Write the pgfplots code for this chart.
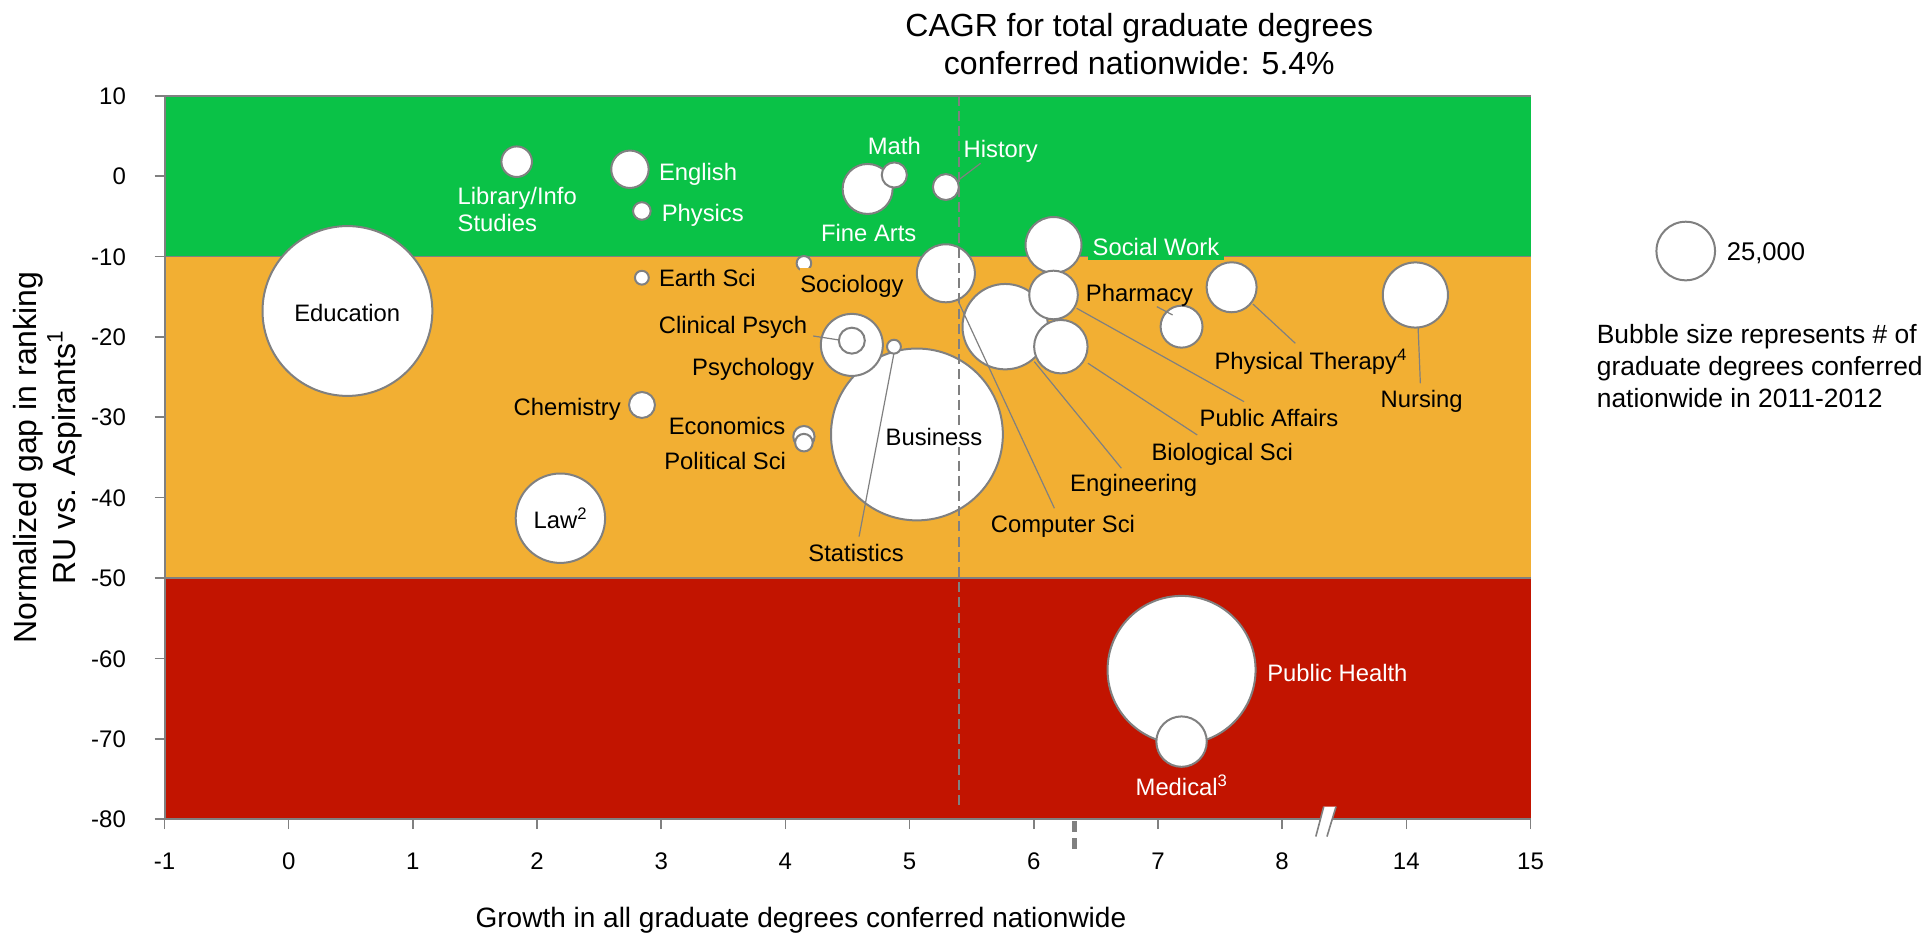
\documentclass[border=0pt]{standalone}
\usepackage{fontspec}
\setmainfont{Liberation Sans}
\usepackage{pgfplots}
\pgfplotsset{compat=1.18}
\usepackage{pgfplotstable}

\definecolor{cgreen}{RGB}{10,194,71}
\definecolor{corange}{RGB}{242,175,51}
\definecolor{cred}{RGB}{194,20,0}
\definecolor{axgray}{RGB}{128,128,128}

\newcommand\lblfont{\fontsize{11.9}{14}\selectfont}
\newcommand\tickfont{\fontsize{12}{14}\selectfont}

% name  x(position)  y  n(thousands of degrees)
\pgfplotstableread{
name x y n
Education 0.473 -16.78 210
Business 5.059 -32.14 215
PublicHealth 7.19 -61.43 159.5
Law 2.188 -42.56 58.2
Engineering 5.77 -18.73 53.1
Nursing 9.073 -14.79 30.9
Psychology 4.535 -21.0 28.0
ComputerSci 5.292 -12.09 24.5
SocialWork 6.159 -8.57 22.8
BiologicalSci 6.218 -21.22 20.8
PublicAffairs 6.159 -14.79 17.2
FineArts 4.662 -1.6 18.2
PhysicalTherapy 7.593 -13.83 18.2
Pharmacy 7.19 -18.73 12.8
English 2.748 0.85 10.2
Library 1.836 1.79 6.8
Medical 7.19 -70.35 18.5
Math 4.877 0.14 4.6
History 5.292 -1.36 4.9
Chemistry 2.845 -28.47 4.9
ClinicalPsych 4.535 -20.47 4.9
Economics 4.149 -32.41 3.3
PoliticalSci 4.149 -33.16 2.25
Physics 2.844 -4.34 2.25
Statistics 4.874 -21.22 1.4
EarthSci 2.844 -12.64 1.4
Sociology 4.149 -10.85 1.55
}\bubbles

\pgfplotstableread{
x y n
11.25 -9.32 25
}\legendbubble

\begin{document}
\begin{tikzpicture}[
  lab/.style={font=\lblfont, inner sep=0pt, text height=8.5pt, text depth=0pt},
  lead/.style={draw=axgray, line width=0.6pt},
]
\begin{axis}[
  set layers,
  at={(0pt,0pt)}, anchor=south west,
  width=683pt, height=361.75pt, scale only axis,
  xmin=-1, xmax=10, ymin=-80, ymax=10,
  axis x line*=bottom, axis y line*=left,
  axis line style={draw=axgray, line width=1pt, -},
  xtick={-1,0,1,2,3,4,5,6,7,8,9,10},
  xticklabels={-1,0,1,2,3,4,5,6,7,8,14,15},
  ytick={-80,-70,-60,-50,-40,-30,-20,-10,0,10},
  yticklabels={-80,-70,-60,-50,-40,-30,-20,-10,0,10},
  tick align=outside, major tick length=5pt,
  tick style={draw=axgray, line width=0.8pt},
  xticklabel style={font=\tickfont, text height=8.6pt, text depth=0pt, anchor=center, yshift=-16pt},
  yticklabel style={font=\tickfont, text height=8.6pt, text depth=0pt, anchor=east, xshift=-10.75pt},
  clip=false,
]
% background bands
\addplot[fill=cgreen, draw=none, forget plot, on layer=axis background] coordinates {(-1,10) (10,10) (10,-10) (-1,-10)} --cycle;
\addplot[fill=corange, draw=none, forget plot, on layer=axis background] coordinates {(-1,-10) (10,-10) (10,-50) (-1,-50)} --cycle;
\addplot[fill=cred, draw=none, forget plot, on layer=axis background] coordinates {(-1,-50) (10,-50) (10,-80) (-1,-80)} --cycle;
\addplot[axgray, line width=0.8pt, forget plot, on layer=axis background] coordinates {(-1,-10) (10,-10)};
\addplot[axgray, line width=0.8pt, forget plot, on layer=axis background] coordinates {(-1,-50) (10,-50)};
\addplot[axgray, line width=1pt, forget plot, on layer=axis background] coordinates {(-1,10) (10,10)};

% bubbles
\addplot[
  scatter, only marks, mark=*,
  scatter/use mapped color={draw=axgray, fill=white},
  mark options={line width=1pt},
  visualization depends on={\thisrow{n} \as \nval},
  scatter/@pre marker code/.append style={/tikz/mark size={14.65*sqrt(\nval/25)}},
] table[x=x, y=y] \bubbles;

% legend bubble
\addplot[
  scatter, only marks, mark=*,
  scatter/use mapped color={draw=axgray, fill=white},
  mark options={line width=1pt},
  visualization depends on={\thisrow{n} \as \nval},
  scatter/@pre marker code/.append style={/tikz/mark size={14.65*sqrt(\nval/25)}},
] table[x=x, y=y] \legendbubble;

% CAGR line
\addplot[axgray, line width=1pt, dash pattern=on 5pt off 2.6pt, forget plot, on layer=axis descriptions] coordinates {(5.4,10) (5.4,-78.2)};

% leader lines
\begin{pgfonlayer}{axis descriptions}
\draw[lead] (axis cs:5.393,-0.49) -- (axis cs:5.572,1.59);
\draw[lead] (axis cs:4.224,-19.89) -- (axis cs:4.433,-20.39);
\draw[lead] (axis cs:4.593,-44.85) -- (axis cs:4.874,-22.04);
\draw[lead] (axis cs:6.166,-41.32) -- (axis cs:5.393,-15.62);
\draw[lead] (axis cs:6.705,-36.34) -- (axis cs:6.004,-23.08);
\draw[lead] (axis cs:7.316,-32.2) -- (axis cs:6.436,-23.28);
\draw[lead] (axis cs:7.693,-28.06) -- (axis cs:6.345,-16.44);
\draw[lead] (axis cs:6.991,-16.24) -- (axis cs:7.118,-17.28);
\draw[lead] (axis cs:7.764,-15.91) -- (axis cs:8.106,-20.8);
\draw[lead] (axis cs:9.095,-18.86) -- (axis cs:9.113,-25.77);
\end{pgfonlayer}

\begin{pgfonlayer}{axis foreground}
% white labels
\node[lab, white, anchor=west] at (axis cs:1.358,-2.475) {Library/Info};
\node[lab, white, anchor=west] at (axis cs:1.358,-5.87) {Studies};
\node[lab, white, anchor=west] at (axis cs:2.979,0.55) {English};
\node[lab, white, anchor=west] at (axis cs:3.001,-4.55) {Physics};
\node[lab, white] at (axis cs:4.877,3.74) {Math};
\node[lab, white, anchor=west] at (axis cs:5.432,3.33) {History};
\node[lab, white] at (axis cs:4.671,-7.11) {Fine Arts};
\node[lab, white, anchor=west, fill=cgreen, inner xsep=2.2pt, inner ysep=1.95pt] at (axis cs:6.436,-8.88) {Social Work};
\node[lab, white, anchor=west] at (axis cs:7.877,-61.77) {Public Health};
\node[lab, white] at (axis cs:7.192,-76.02) {Medical\textsuperscript{3}};

% black labels
\node[lab] at (axis cs:0.472,-16.98) {Education};
\node[lab, anchor=west] at (axis cs:2.979,-12.71) {Earth Sci};
\node[lab, anchor=west, fill=corange, inner ysep=3.6pt] at (axis cs:4.117,-13.42) {Sociology};
\node[lab, anchor=east] at (axis cs:4.178,-18.52) {Clinical Psych};
\node[lab, anchor=east] at (axis cs:4.233,-23.78) {Psychology};
\node[lab, anchor=east] at (axis cs:2.677,-28.68) {Chemistry};
\node[lab, anchor=east] at (axis cs:4.002,-31.08) {Economics};
\node[lab, anchor=east] at (axis cs:4.008,-35.4) {Political Sci};
\node[lab] at (axis cs:2.19,-42.77) {Law\textsuperscript{2}};
\node[lab, fill=white, inner ysep=1pt] at (axis cs:5.196,-32.41) {Business};
\node[lab] at (axis cs:4.569,-46.92) {Statistics};
\node[lab, anchor=west] at (axis cs:6.417,-14.58) {Pharmacy};
\node[lab, anchor=west] at (axis cs:7.452,-23.0) {Physical Therapy\textsuperscript{4}};
\node[lab, anchor=west] at (axis cs:8.79,-27.72) {Nursing};
\node[lab, anchor=west] at (axis cs:7.333,-30.12) {Public Affairs};
\node[lab, anchor=west] at (axis cs:6.945,-34.28) {Biological Sci};
\node[lab, anchor=west] at (axis cs:6.29,-38.21) {Engineering};
\node[lab, anchor=west] at (axis cs:5.651,-43.31) {Computer Sci};

% legend text
\node[font=\fontsize{12.8}{15}\selectfont, inner sep=0pt, text height=9.2pt, text depth=0pt, anchor=west] at (axis cs:11.578,-9.32) {25,000};
\node[font=\fontsize{13.2}{15}\selectfont, inner sep=0pt, anchor=base west] at (axis cs:10.531,-20.85) {Bubble size represents \# of};
\node[font=\fontsize{13.2}{15}\selectfont, inner sep=0pt, anchor=base west] at (axis cs:10.531,-24.79) {graduate degrees conferred};
\node[font=\fontsize{13.2}{15}\selectfont, inner sep=0pt, anchor=base west] at (axis cs:10.531,-28.74) {nationwide in 2011-2012};

% title
\node[font=\fontsize{16}{19}\selectfont, inner sep=0pt, text height=11.5pt, text depth=0pt] at (axis cs:6.85,18.79) {CAGR for total graduate degrees};
\node[font=\fontsize{16}{19}\selectfont, inner sep=0pt, text height=11.5pt, text depth=0pt] at (axis cs:6.85,14.03) {conferred nationwide: 5.4\%};

% axis labels
\node[font=\fontsize{14}{17}\selectfont, inner sep=0pt, text height=10pt, text depth=0pt] at (axis cs:4.125,-92.21) {Growth in all graduate degrees conferred nationwide};
\node[font=\fontsize{16}{19}\selectfont, inner sep=0pt, text height=11.5pt, text depth=0pt, rotate=90] at (axis cs:-2.123,-35) {Normalized gap in ranking};
\node[font=\fontsize{16}{19}\selectfont, inner sep=0pt, text height=11.5pt, text depth=0pt, rotate=90] at (axis cs:-1.811,-35) {RU vs. Aspirants\textsuperscript{1}};
\end{pgfonlayer}

% anchor points for the axis break and the marker below the axis
\coordinate (b1) at (axis cs:8.271,-82.16);
\coordinate (b2) at (axis cs:8.335,-78.43);
\coordinate (b3) at (axis cs:8.434,-78.43);
\coordinate (b4) at (axis cs:8.361,-82.16);
\coordinate (m1) at (axis cs:6.331,-80.25);
\coordinate (m2) at (axis cs:6.331,-84.2);
\end{axis}
\fill[white] (b1) -- (b2) -- (b3) -- (b4) -- cycle;
\draw[axgray, line width=0.8pt] (b1) -- (b2);
\draw[axgray, line width=0.8pt] (b4) -- (b3);
\draw[axgray, line width=2.6pt, dash pattern=on 5.6pt off 2.8pt] (m1) -- (m2);
\pgfresetboundingbox
\path (-82.25pt,-58.4pt) rectangle (880.75pt,409.6pt);
\end{tikzpicture}
\end{document}
